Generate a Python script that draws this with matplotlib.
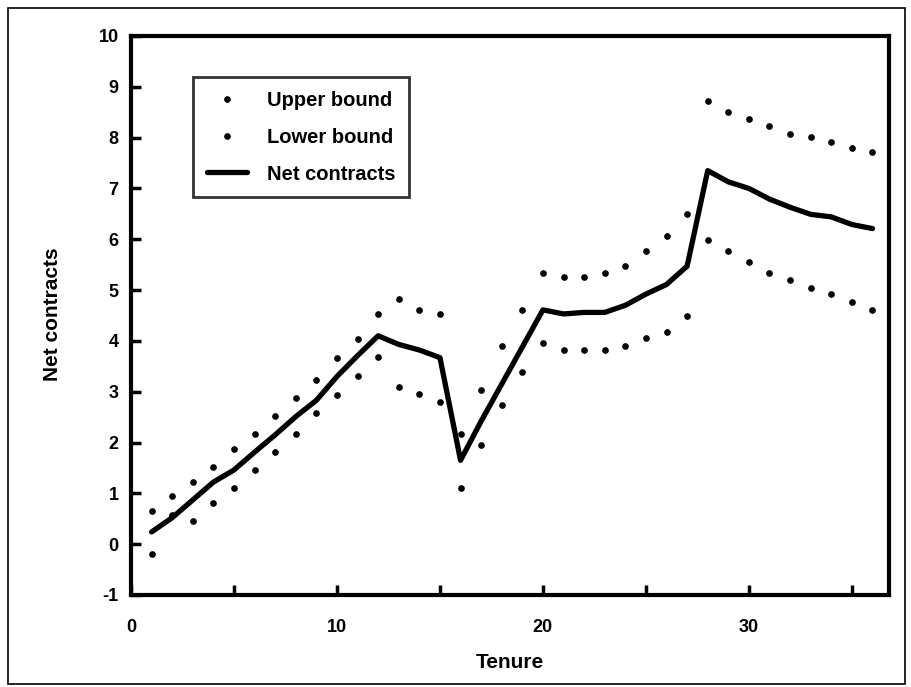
import matplotlib
matplotlib.use('Agg')
import matplotlib.pyplot as plt
from matplotlib.patches import Rectangle

plt.rcParams['font.family'] = ['Liberation Sans', 'DejaVu Sans']
plt.rcParams['font.weight'] = 'bold'
plt.rcParams['axes.unicode_minus'] = False

# tenure (years) and values
tenure = list(range(1, 37))
net_contracts = [0.24, 0.52, 0.87, 1.22, 1.46, 1.81, 2.15, 2.51, 2.83, 3.30,
                 3.71, 4.10, 3.93, 3.82, 3.67, 1.65, 2.42, 3.15, 3.88, 4.61,
                 4.53, 4.56, 4.56, 4.70, 4.92, 5.11, 5.47, 7.35, 7.13, 7.00,
                 6.79, 6.63, 6.49, 6.44, 6.29, 6.21]
upper_bound = [0.66, 0.94, 1.23, 1.52, 1.87, 2.17, 2.52, 2.87, 3.23, 3.67,
               4.03, 4.53, 4.82, 4.60, 4.53, 2.16, 3.03, 3.89, 4.61, 5.34,
               5.26, 5.26, 5.34, 5.48, 5.77, 6.06, 6.49, 8.73, 8.51, 8.37,
               8.22, 8.08, 8.01, 7.92, 7.80, 7.72]
lower_bound = [-0.20, 0.58, 0.45, 0.81, 1.10, 1.46, 1.81, 2.17, 2.59, 2.94,
               3.30, 3.68, 3.10, 2.95, 2.80, 1.10, 1.95, 2.74, 3.39, 3.95,
               3.82, 3.82, 3.82, 3.89, 4.05, 4.18, 4.48, 5.98, 5.77, 5.55,
               5.34, 5.19, 5.05, 4.92, 4.77, 4.61]

fig = plt.figure(figsize=(9.11, 6.87), dpi=100)
ax = fig.add_axes([0.1438, 0.134, 0.832, 0.8136])

ax.plot(tenure, upper_bound, linestyle='none', marker='o', markersize=3.8,
        color='black', label='Upper bound')
ax.plot(tenure, lower_bound, linestyle='none', marker='o', markersize=3.8,
        color='black', label='Lower bound')
ax.plot(tenure, net_contracts, color='black', linewidth=3.8,
        solid_capstyle='round', label='Net contracts')

ax.set_xlim(0.2, 36.8)
ax.set_ylim(-1, 10)
ax.set_xticks(range(0, 36, 5))
ax.set_xticklabels(['0', '', '10', '', '20', '', '30', ''])
ax.set_yticks(range(-1, 11))
ax.tick_params(direction='in', length=7, width=2.5, labelsize=13)
ax.tick_params(axis='x', pad=17)
ax.tick_params(axis='y', pad=9)
for s in ax.spines.values():
    s.set_linewidth(3)

ax.set_xlabel('Tenure', fontsize=15, fontweight='bold')
ax.set_ylabel('Net contracts', fontsize=15, fontweight='bold')
ax.xaxis.set_label_coords(0.5, -0.12)
ax.yaxis.set_label_coords(-0.091, 0.502)
ax.xaxis.label.set_verticalalignment('center')

leg = ax.legend(loc='upper left', bbox_to_anchor=(0.0814, 0.927),
                borderaxespad=0, fancybox=False, frameon=True,
                edgecolor='black', fontsize=14.5, handlelength=2.0,
                handletextpad=1.0, labelspacing=0.89, borderpad=0.69)
leg.get_frame().set_linewidth(2)

# outer frame of the scanned figure
fig.patches.append(Rectangle((0.009, 0.004), 0.984, 0.985, transform=fig.transFigure,
                             fill=False, edgecolor='black', linewidth=1.2))

fig.savefig('out.png', dpi=100)
